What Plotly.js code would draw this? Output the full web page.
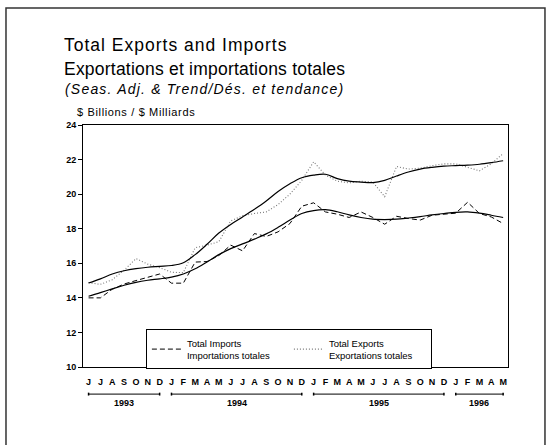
<!DOCTYPE html>
<html>
<head>
<meta charset="utf-8">
<script src="https://cdn.plot.ly/plotly-3.0.1.min.js"></script>
<style>html,body{margin:0;padding:0;background:#fff;}#chart{width:552px;height:445px;}</style>
</head>
<body>
<div id="chart"></div>
<script>
// Month labels and years (June 1993 - May 1996)
const monthLabels = ['J','J','A','S','O','N','D',
  'J','F','M','A','M','J','J','A','S','O','N','D',
  'J','F','M','A','M','J','J','A','S','O','N','D',
  'J','F','M','A','M'];
const monthYears = [1993,1993,1993,1993,1993,1993,1993,
  1994,1994,1994,1994,1994,1994,1994,1994,1994,1994,1994,1994,
  1995,1995,1995,1995,1995,1995,1995,1995,1995,1995,1995,1995,
  1996,1996,1996,1996,1996];

// Seasonally adjusted series ($ billions)
const importsSA = [14.0,14.0,14.5,14.8,15.0,15.2,15.38,
  14.85,14.85,16.07,16.1,16.45,17.05,16.72,17.72,17.55,17.82,18.3,19.3,
  19.5,18.97,18.84,18.65,18.97,18.65,18.26,18.72,18.59,18.5,18.78,18.85,
  18.9,19.53,18.88,18.68,18.3];
const exportsSA = [14.88,14.78,15.05,15.6,16.27,15.95,15.75,
  15.48,15.46,16.9,17.05,17.25,18.45,18.75,18.88,18.97,19.4,20.0,20.8,
  21.87,21.1,20.75,20.65,20.75,20.7,19.85,21.6,21.45,21.5,21.65,21.75,
  21.75,21.55,21.35,21.75,22.35];

// Trend series
const importsTrend = [14.09,14.3,14.52,14.73,14.9,15.02,15.1,
  15.2,15.38,15.68,16.08,16.5,16.85,17.12,17.4,17.7,18.08,18.5,18.88,
  19.05,19.1,18.98,18.8,18.65,18.55,18.53,18.55,18.62,18.7,18.8,18.88,
  18.95,18.97,18.9,18.78,18.65];
const exportsTrend = [14.86,15.1,15.38,15.57,15.69,15.77,15.82,
  15.87,16.03,16.5,17.1,17.75,18.25,18.68,19.12,19.6,20.15,20.6,20.95,
  21.1,21.15,20.9,20.75,20.7,20.67,20.8,21.05,21.28,21.45,21.55,21.62,
  21.65,21.68,21.73,21.82,21.93];

const yTicks = [10,12,14,16,18,20,22,24];

const xIdx = monthLabels.map((_, i) => i);
const FONT = 'Liberation Sans, Arial, sans-serif';

const traces = [
  {x: xIdx, y: importsSA, type: 'scatter', mode: 'lines', name: 'Total Imports<br>Importations totales',
   line: {color: '#000', width: 1, dash: '5px,3px'}},
  {x: xIdx, y: exportsSA, type: 'scatter', mode: 'lines', name: 'Total Exports<br>Exportations totales',
   line: {color: '#777', width: 1.1, dash: '1px,2px'}},
  {x: xIdx, y: importsTrend, type: 'scatter', mode: 'lines', showlegend: false,
   line: {color: '#000', width: 1.2, shape: 'spline'}},
  {x: xIdx, y: exportsTrend, type: 'scatter', mode: 'lines', showlegend: false,
   line: {color: '#000', width: 1.2, shape: 'spline'}}
];

// Year groups computed from the month/year arrays
const yearGroups = [];
monthYears.forEach((yr, i) => {
  let g = yearGroups.find(o => o.year === yr);
  if (!g) { g = {year: yr, start: i, end: i}; yearGroups.push(g); }
  g.end = i;
});

const shapes = [];
const annotations = [];
const barY = -0.112, capH = 0.012;
yearGroups.forEach(g => {
  shapes.push({type: 'line', xref: 'x', yref: 'paper', x0: g.start, x1: g.end, y0: barY, y1: barY,
    line: {color: '#000', width: 1}});
  shapes.push({type: 'line', xref: 'x', yref: 'paper', x0: g.start, x1: g.start, y0: barY - capH/2, y1: barY + capH/2,
    line: {color: '#000', width: 1.5}});
  shapes.push({type: 'line', xref: 'x', yref: 'paper', x0: g.end, x1: g.end, y0: barY - capH/2, y1: barY + capH/2,
    line: {color: '#000', width: 1.5}});
  annotations.push({xref: 'x', yref: 'paper', x: (g.start + g.end) / 2, y: -0.148, yanchor: 'middle',
    text: '<b>' + g.year + '</b>', showarrow: false, font: {family: FONT, size: 9, color: '#000'}});
});

// Outer frame
shapes.push({type: 'rect', xref: 'paper', yref: 'paper', x0: -0.1812, x1: 1.087, y0: -0.36, y1: 1.483,
  line: {color: '#333', width: 1.5}, fillcolor: 'rgba(0,0,0,0)'});

const titleLines = [
  {text: 'Total Exports and Imports', size: 17.5, y: 1.331, x: -0.0494, ls: 1.0},
  {text: 'Exportations et importations totales', size: 17.5, y: 1.231, x: -0.0494, ls: 0.22},
  {text: '<i>(Seas. Adj. & Trend/Dés. et tendance)</i>', size: 14, y: 1.147, x: -0.0471, ls: 1.2},
  {text: '$ Billions / $ Milliards', size: 11, y: 1.054, x: -0.018, ls: 0.65}
];
titleLines.forEach(t => annotations.push({xref: 'paper', yref: 'paper', x: t.x, y: t.y,
  xanchor: 'left', yanchor: 'middle', showarrow: false, text: t.text,
  font: {family: FONT, size: t.size, color: '#000'}}));

const layout = {
  width: 552, height: 445,
  margin: {l: 83, r: 44, t: 125, b: 78},
  paper_bgcolor: '#fff', plot_bgcolor: '#fff',
  font: {family: FONT, color: '#000'},
  showlegend: true,
  legend: {orientation: 'h', x: 0.148, y: 0.156, xanchor: 'left', yanchor: 'top',
    bordercolor: '#000', borderwidth: 1, bgcolor: '#fff',
    font: {family: FONT, size: 9.5, color: '#000'}, itemwidth: 30, entrywidth: 97, tracegroupgap: 0},
  xaxis: {range: [-0.47, 35.41], tickmode: 'array', tickvals: xIdx,
    ticktext: monthLabels.map(m => '<b>' + m + '</b>'),
    ticks: '', showgrid: false, zeroline: false, showline: true, mirror: true, linecolor: '#000', linewidth: 1,
    tickfont: {family: FONT, size: 9, color: '#000'}, ticklabelstandoff: 6, fixedrange: true},
  yaxis: {range: [10, 24], tickmode: 'array', tickvals: yTicks,
    ticktext: yTicks.map(v => '<b>' + v + '</b>'),
    ticks: 'outside', ticklen: 4, tickcolor: '#000', showgrid: false, zeroline: false,
    showline: true, mirror: true, linecolor: '#000', linewidth: 1,
    tickfont: {family: FONT, size: 9, color: '#000'}, fixedrange: true},
  shapes: shapes,
  annotations: annotations
};

Plotly.newPlot('chart', traces, layout, {displayModeBar: false, staticPlot: true}).then(gd => {
  const plain = s => s.replace(/<[^>]+>/g, '');
  document.querySelectorAll('.annotation-text').forEach(el => {
    const t = titleLines.find(o => plain(o.text) === el.textContent);
    if (!t) return;
    const left = el.getBBox().x;
    el.setAttribute('text-anchor', 'start');
    el.setAttribute('x', left);
    el.querySelectorAll('tspan').forEach(ts => { if (ts.hasAttribute('x')) ts.setAttribute('x', left); });
    el.style.letterSpacing = t.ls + 'px';
  });
});
</script>
</body>
</html>
